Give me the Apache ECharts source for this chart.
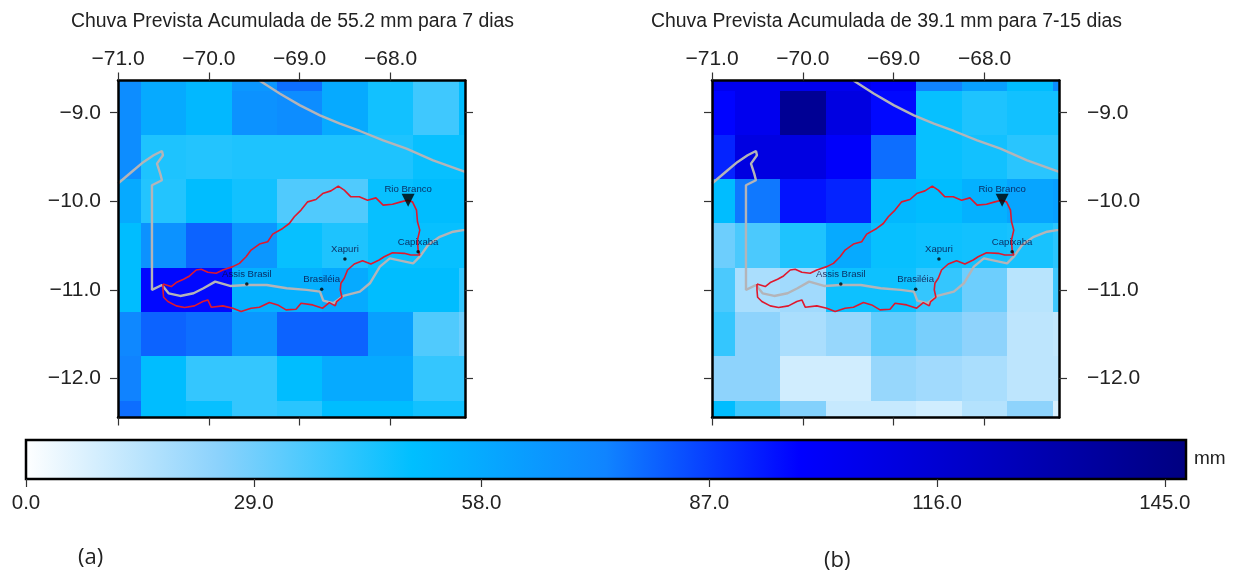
<!DOCTYPE html>
<html><head><meta charset="utf-8">
<script src="https://cdn.jsdelivr.net/npm/echarts@6/dist/echarts.min.js"></script>
<style>html,body{margin:0;padding:0;background:#fff}#c{width:1236px;height:573px}</style></head>
<body><div id="c"></div>
<script>
const lonEdges=[-71,-70.75,-70.25,-69.75,-69.25,-68.75,-68.25,-67.75,-67.25,-67.18];
const latEdges=[-8.636,-8.75,-9.25,-9.75,-10.25,-10.75,-11.25,-11.75,-12.25,-12.44];
const rainA=[
[70,58,52,66,78,58,46,38,50],
[70,58,52,68,70,58,46,38,50],
[70,44,43,44,44,44,44,48,48],
[58,43,50,46,35,35,48,50,50],
[50,68,80,66,48,44,48,48,48],
[50,97,97,55,55,58,50,50,40],
[72,80,78,66,80,80,62,35,30],
[74,50,40,40,50,58,58,40,40],
[78,50,48,40,42,50,50,46,46]];
const rainB=[
[105,105,105,105,100,74,62,50,70],
[98,105,140,110,97,48,44,46,46],
[92,110,110,100,78,48,46,42,42],
[50,76,95,92,52,50,55,60,62],
[30,36,44,58,48,47,46,45,42],
[36,18,20,47,47,40,30,15,38],
[40,24,18,22,32,28,24,14,13],
[24,24,10,10,22,20,18,14,14],
[50,38,26,12,12,10,16,24,8]];
const basinLon=[-70.505,-70.414,-70.359,-70.278,-70.212,-70.139,-70.084,-70.011,-69.919,-69.846,-69.736,-69.663,-69.590,-69.535,-69.443,-69.352,-69.297,-69.187,-69.114,-69.059,-68.985,-68.912,-68.821,-68.747,-68.656,-68.575,-68.509,-68.436,-68.344,-68.253,-68.161,-68.081,-67.978,-67.886,-67.813,-67.758,-67.714,-67.703,-67.678,-67.703,-67.696,-67.678,-67.777,-67.850,-67.978,-68.070,-68.125,-68.216,-68.308,-68.399,-68.473,-68.509,-68.546,-68.553,-68.535,-68.593,-68.608,-68.674,-68.747,-68.857,-68.985,-69.040,-69.150,-69.242,-69.333,-69.443,-69.535,-69.645,-69.736,-69.846,-69.974,-70.011,-70.066,-70.158,-70.267,-70.359,-70.451,-70.498,-70.505,-70.505];
const basinLat=[-10.932,-10.962,-10.917,-10.880,-10.842,-10.775,-10.767,-10.801,-10.812,-10.775,-10.737,-10.700,-10.625,-10.550,-10.482,-10.456,-10.370,-10.306,-10.250,-10.174,-10.099,-10.006,-9.979,-9.912,-9.882,-9.829,-9.874,-9.949,-9.949,-9.987,-9.961,-10.043,-10.032,-10.006,-9.987,-10.006,-10.099,-10.231,-10.325,-10.437,-10.550,-10.606,-10.606,-10.587,-10.580,-10.625,-10.662,-10.707,-10.670,-10.707,-10.775,-10.869,-10.925,-11.000,-11.083,-11.131,-11.180,-11.143,-11.206,-11.169,-11.150,-11.218,-11.225,-11.169,-11.143,-11.195,-11.206,-11.244,-11.206,-11.180,-11.195,-11.113,-11.131,-11.180,-11.199,-11.180,-11.131,-11.083,-11.000,-10.932];
const northLon=[-69.443,-69.216,-68.996,-68.777,-68.557,-68.337,-68.081,-67.824,-67.531,-67.201,-67.18];
const northLat=[-8.636,-8.786,-8.917,-9.030,-9.124,-9.206,-9.311,-9.405,-9.537,-9.660,-9.668];
const borderLon=[-71,-70.828,-70.718,-70.608,-70.516,-70.505,-70.571,-70.535,-70.516,-70.626,-70.626,-70.516,-70.443,-70.315,-70.168,-70.059,-69.930,-69.766,-69.582,-69.363,-69.143,-68.923,-68.777,-68.740,-68.630,-68.520,-68.337,-68.227,-68.117,-68.007,-67.751,-67.678,-67.586,-67.458,-67.311,-67.201,-67.18];
const borderLat=[-9.799,-9.649,-9.555,-9.480,-9.432,-9.480,-9.574,-9.687,-9.762,-9.818,-11.000,-10.944,-11.038,-11.068,-11.038,-10.981,-10.906,-10.955,-10.944,-10.944,-10.981,-11.000,-11.019,-11.120,-11.150,-11.068,-11.019,-10.925,-10.737,-10.644,-10.700,-10.625,-10.493,-10.400,-10.343,-10.325,-10.325];
const cityNames=["Assis Brasil","Brasiléia","Xapuri","Capixaba"];
const cityLon=[-69.582,-68.758,-68.502,-67.696];
const cityLat=[-10.932,-10.992,-10.651,-10.568];
const gaugeName=["Rio Branco"];
const gaugeLon=[-67.806];
const gaugeLat=[-9.987];
const lonTicks=[-71,-70,-69,-68];
const latTicks=[-9,-10,-11,-12];
const barTicks=[0,29,58,87,116,145];
const barRange=[0,147.7];
const rampColors=['#ffffff','#8bd2fc','#00bfff','#1084ff','#0000ff','#0000c0','#000080'];
const titles=["Chuva Prevista Acumulada de 55.2 mm para 7 dias","Chuva Prevista Acumulada de 39.1 mm para 7-15 dias"];
const panelTags=["(a)","(b)"];
const unit="mm";

const sans='"Liberation Sans",Arial,sans-serif';
const fmt=v=>String(v.toFixed(1)).replace('-','\u2212');
const lonMin=lonEdges[0],lonMax=lonEdges[lonEdges.length-1];
const latMax=latEdges[0],latMin=latEdges[latEdges.length-1];
const cellsOf=m=>{const o=[];m.forEach((row,r)=>row.forEach((v,c)=>o.push([lonEdges[c],lonEdges[c+1],latEdges[r+1],latEdges[r],v])));return o;};
const zip=(a,b)=>a.map((v,i)=>[v,b[i]]);
const line={lineStyle:{color:'#000',width:2.5},show:true,onZero:false};
function xAx(grid,pos,labels){return {type:'value',gridIndex:grid,position:pos,min:lonMin,max:lonMax,z:6,
  axisLine:line,splitLine:{show:false},axisTick:{show:true,length:8,lineStyle:{color:'#333',width:1.2},customValues:lonTicks},
  axisLabel:{show:labels,customValues:lonTicks,formatter:fmt,color:'#222',fontFamily:sans,fontSize:21,margin:11,hideOverlap:false}};}
function yAx(grid,pos,labels,margin){return {type:'value',gridIndex:grid,position:pos,min:latMin,max:latMax,z:6,
  axisLine:line,splitLine:{show:false},axisTick:{show:true,length:8,lineStyle:{color:'#333',width:1.2},customValues:latTicks},
  axisLabel:{show:labels,customValues:latTicks,formatter:fmt,color:'#222',fontFamily:sans,fontSize:21,margin:margin,padding:[3,0,0,0],hideOverlap:false}};}
const cellRender=(p,api)=>{const a=api.coord([api.value(0),api.value(3)]),b=api.coord([api.value(1),api.value(2)]);
  return {type:'rect',shape:{x:Math.round(a[0]),y:Math.round(a[1]),width:Math.round(b[0])-Math.round(a[0]),height:Math.round(b[1])-Math.round(a[1])},style:{fill:api.visual('color')}};};
function panel(i,m){const ax={xAxisIndex:i*2,yAxisIndex:i*2};
  const lbl=(dist)=>({show:true,position:'top',distance:dist,formatter:'{b}',color:'#0a0a3c',fontFamily:sans,fontSize:9.6});
  return [
   {type:'custom',...ax,z:1,clip:true,data:cellsOf(m),encode:{x:[0,1],y:[2,3]},renderItem:cellRender,silent:true},
   {type:'line',...ax,z:3,data:zip(northLon,northLat),showSymbol:false,clip:true,lineStyle:{color:'#b4b4b8',width:2.4},silent:true},
   {type:'line',...ax,z:3,data:zip(borderLon,borderLat),showSymbol:false,clip:true,lineStyle:{color:'#b4b4b8',width:2.4},silent:true},
   {type:'line',...ax,z:4,data:zip(basinLon,basinLat),showSymbol:false,clip:true,lineStyle:{color:'#e0182d',width:1.6},silent:true},
   {type:'scatter',...ax,z:5,symbol:'circle',symbolSize:3.5,itemStyle:{color:'#000'},label:lbl(3),silent:true,
    data:cityNames.map((n,k)=>({name:n,value:[cityLon[k],cityLat[k]]}))},
   {type:'scatter',...ax,z:5,symbol:'triangle',symbolRotate:180,symbolSize:13,itemStyle:{color:'#000'},label:lbl(-1),silent:true,
    data:gaugeName.map((n,k)=>({name:n,value:[gaugeLon[k],gaugeLat[k]]}))}
  ];}
const txt=(size,fam)=>({fontFamily:fam||sans,fontSize:size,fontWeight:'normal',color:'#222'});
const option={
 animation:false,backgroundColor:'#fff',
 title:[
  {text:titles[0],left:71,top:12,padding:0,textStyle:txt(19.4)},
  {text:titles[1],left:651,top:12,padding:0,textStyle:txt(19.4)},
  {text:unit,left:1194,top:449,padding:0,textStyle:txt(19)},
  {text:panelTags[0],left:78,top:547,padding:0,textStyle:txt(22,'"Open Sans",sans-serif')},
  {text:panelTags[1],left:824,top:550,padding:0,textStyle:txt(22,'"Open Sans",sans-serif')}
 ],
 grid:[
  {left:118,top:80.5,width:347,height:337},
  {left:712,top:80.5,width:347,height:337},
  {left:26,top:440,width:1160,height:39}
 ],
 xAxis:[
  xAx(0,'top',true),xAx(0,'bottom',false),
  xAx(1,'top',true),xAx(1,'bottom',false),
  {type:'value',gridIndex:2,position:'bottom',min:barRange[0],max:barRange[1],z:6,splitLine:{show:false},
   axisLine:{show:false,onZero:false},
   axisTick:{show:true,length:8,lineStyle:{color:'#333',width:1.2},customValues:barTicks},
   axisLabel:{customValues:barTicks,formatter:v=>v.toFixed(1),color:'#222',fontFamily:sans,fontSize:20.5,margin:14,hideOverlap:false}}
 ],
 yAxis:[
  yAx(0,'left',true,17),yAx(0,'right',false,0),
  yAx(1,'left',false,0),yAx(1,'right',true,28),
  {type:'value',gridIndex:2,min:0,max:1,show:false}
 ],
 visualMap:{type:'continuous',show:false,min:barRange[0],max:barRange[1],dimension:4,seriesIndex:[0,6],inRange:{color:rampColors}},
 series:[
  ...panel(0,rainA),...panel(1,rainB),
  {type:'custom',xAxisIndex:4,yAxisIndex:4,z:2,clip:false,data:[[barRange[0],barRange[1]]],silent:true,
   renderItem:(p,api)=>{const a=api.coord([api.value(0),1]),b=api.coord([api.value(1),0]);
    return {type:'rect',shape:{x:a[0],y:a[1],width:b[0]-a[0],height:b[1]-a[1]},
     style:{stroke:'#000',lineWidth:2.5,fill:new echarts.graphic.LinearGradient(0,0,1,0,rampColors.map((c,i)=>({offset:i/(rampColors.length-1),color:c})))}};}}
 ]
};
const chart=echarts.init(document.getElementById('c'),null,{renderer:'canvas'});
chart.setOption(option);
</script></body></html>
